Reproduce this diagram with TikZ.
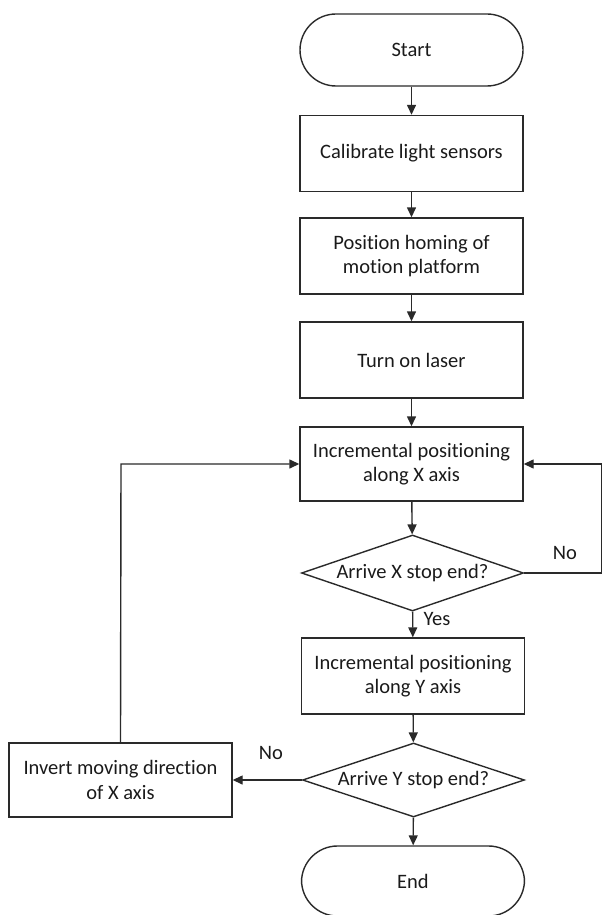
\documentclass[tikz,border=0pt]{standalone}
\usepackage{fontspec}
\setmainfont{Carlito}[Ligatures=NoCommon]
\usetikzlibrary{arrows.meta,shapes.geometric}
\definecolor{ln}{HTML}{2A2A2A}
\definecolor{tx}{HTML}{1A1A1A}
\tikzset{
  base/.style={draw=ln,line width=1.4pt,text=tx,font=\fontsize{20.5}{24.5}\selectfont,align=center,inner sep=0pt},
  procbox/.style={base,rectangle,minimum width=223pt,minimum height=76pt},
  termbox/.style={base,rectangle,rounded corners=36pt,minimum width=223pt,minimum height=72pt},
  decbox/.style={base,diamond,aspect=2.9,minimum width=222pt,minimum height=76pt},
  flow/.style={draw=ln,line width=1.4pt,-{Triangle[length=10pt,width=9pt]}},
  lbl/.style={text=tx,font=\fontsize{20.5}{24.5}\selectfont,inner sep=0pt}
}
\begin{document}
\begin{tikzpicture}[x=1pt,y=-1pt]
\useasboundingbox (0,0) rectangle (603,915);
\node[termbox] (start) at (411.5,50) {Start};
\node[procbox] (cal) at (411.5,153.5) {Calibrate light sensors};
\node[procbox] (home) at (411.5,256) {Position homing of\\motion platform};
\node[procbox] (laser) at (411.5,360) {Turn on laser};
\node[procbox,minimum height=74pt] (incx) at (411.5,464) {Incremental positioning\\along X axis};
\node[decbox] (decx) at (412.5,573) {Arrive X stop end?};
\node[procbox] (incy) at (413,676) {Incremental positioning\\along Y axis};
\node[decbox,minimum height=74pt] (decy) at (413.5,780) {Arrive Y stop end?};
\node[termbox,minimum height=70pt] (end) at (413,881) {End};
\node[procbox,minimum height=74pt] (inv) at (120.5,780) {Invert moving direction\\of X axis};
\coordinate (rc) at (601.5,573);
\coordinate (lc) at (121,464);
\draw[flow] (start) -- (cal);
\draw[flow] (cal) -- (home);
\draw[flow] (home) -- (laser);
\draw[flow] (laser) -- (incx);
\draw[flow] (incx) -- (decx);
\draw[flow] (decx) -- (incy);
\draw[flow] (incy) -- (decy);
\draw[flow] (decy) -- (end);
\draw[flow] (decy) -- (inv);
\draw[flow] (decx.east) -- (rc) |- (incx.east);
\draw[flow] (inv.north) -- (lc) -- (incx.west);
\node[lbl] (nox) at (565,553) {No};
\node[lbl] (yes) at (437,619) {Yes};
\node[lbl] (noy) at (271,753) {No};
\end{tikzpicture}
\end{document}
